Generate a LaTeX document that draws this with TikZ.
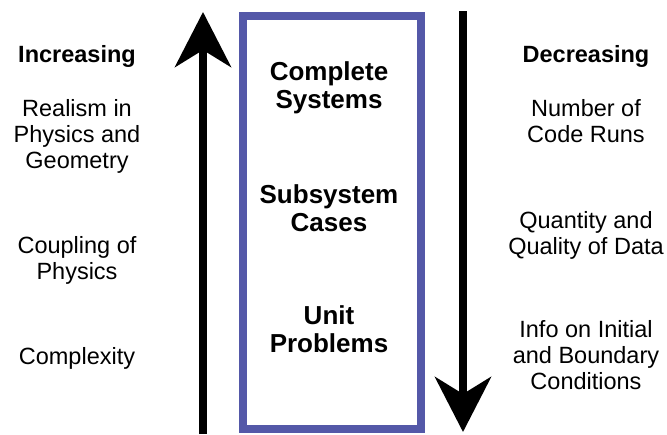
\documentclass[tikz,border=0pt]{standalone}
\usepackage{fontspec}
\setmainfont{Liberation Sans}
\usetikzlibrary{arrows.meta}
\definecolor{boxblue}{RGB}{84,88,168}

\begin{document}
\begin{tikzpicture}[x=1pt,y=-1pt,
  lbl/.style={align=center, inner sep=0pt, font=\fontsize{23.5}{26}\selectfont},
  head/.style={lbl, font=\fontsize{23.5}{26}\selectfont\bfseries},
  lvl/.style={lbl, font=\fontsize{26}{28}\selectfont\bfseries},
  bigarrow/.style={line width=8pt, -{Stealth[length=55pt, width=56pt, inset=17pt]}}]
\useasboundingbox (0,0) rectangle (667,434);

\node[draw=boxblue, line width=8pt, minimum width=178pt, minimum height=413pt] (box) at (332,222.5) {};

\node[lvl] (sys) at (329,87.5) {Complete\\Systems};
\node[lvl] (sub) at (329,208.5) {Subsystem\\Cases};
\node[lvl] (unit) at (329,329.5) {Unit\\Problems};

\node[head] (inc) at (77,56) {Increasing};
\node[lbl] (real) at (77,136.5) {Realism in\\Physics and\\Geometry};
\node[lbl] (coup) at (77,260) {Coupling of\\Physics};
\node[lbl] (cplx) at (77,358) {Complexity};

\node[head] (dec) at (586,56) {Decreasing};
\node[lbl] (runs) at (586,121) {Number of\\Code Runs};
\node[lbl] (data) at (586,235) {Quantity and\\Quality of Data};
\node[lbl] (info) at (586,355) {Info on Initial\\and Boundary\\Conditions};

\coordinate (lbot) at (203,434);
\coordinate (ltop) at (203,12);
\coordinate (rtop) at (463,11);
\coordinate (rbot) at (463,432);

\draw[bigarrow] (lbot) -- (ltop);
\draw[bigarrow] (rtop) -- (rbot);
\end{tikzpicture}
\end{document}
